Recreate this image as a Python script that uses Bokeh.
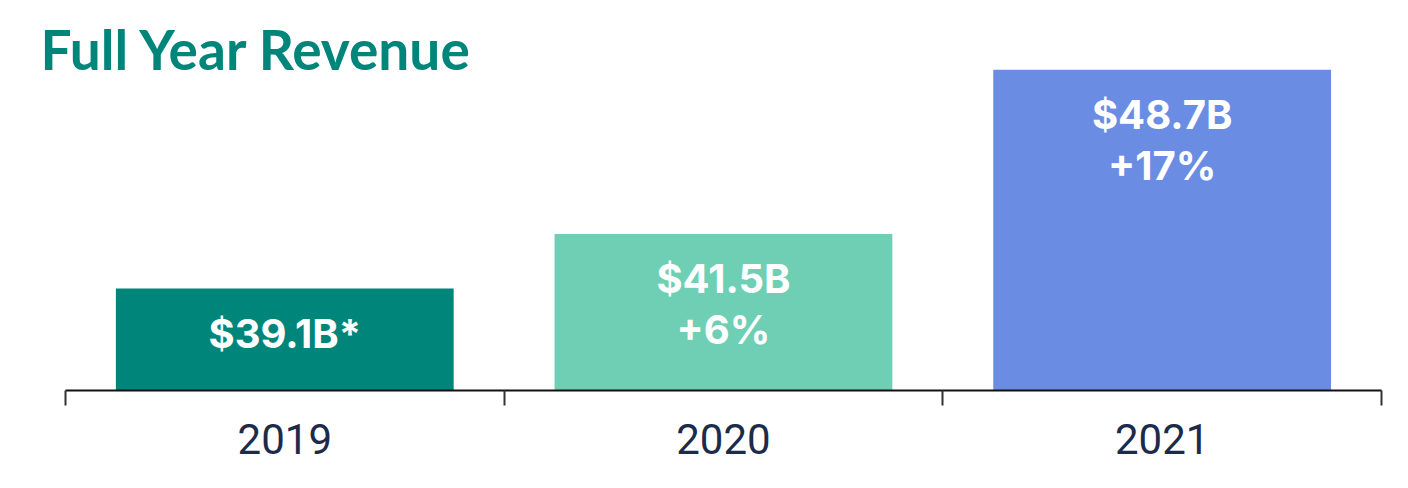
from bokeh.plotting import figure
from bokeh.models import ColumnDataSource, FixedTicker, Range1d, Label
from bokeh.core.properties import value
from bokeh.embed import file_html
from bokeh.resources import INLINE

# Revenue by year (billions USD)
years = ["2019", "2020", "2021"]
revenue = [39.1, 41.5, 48.7]
growth = ["", "+6%", "+17%"]
value_text = ["$39.1B*", "$41.5B", "$48.7B"]
bar_colors = ["#00857a", "#6fcfb4", "#6a8ce3"]

xpos = [i + 0.5 for i in range(len(years))]
labels = [v if g == "" else v + "\n" + g for v, g in zip(value_text, growth)]

source = ColumnDataSource(dict(x=xpos, year=years, revenue=revenue,
                               label=labels, color=bar_colors))

# Frame covers the top and left margins so the heading can sit inside it
y_start = 34.63
p = figure(width=1408, height=488, output_backend="svg", toolbar_location=None,
           x_range=Range1d(-0.148, len(years)), y_range=Range1d(y_start, 51.74),
           min_border_left=0, min_border_right=27, min_border_top=0,
           min_border_bottom=98)
p.title = None

p.vbar(x="x", top="revenue", bottom=y_start, width=0.77, color="color",
       line_color=None, source=source)

p.text(x="x", y="revenue", text="label", source=source,
       text_align="center", text_baseline="top", y_offset=20,
       text_color="white", text_font=value("Inter"), text_font_style="bold",
       text_font_size="40px", text_line_height=1.04)

# Heading
heading = Label(x=40, y=342, x_units="screen", y_units="screen",
                text="Full Year Revenue", text_font="Lato",
                text_font_style="bold", text_font_size="55px",
                text_color="#00857a", text_baseline="alphabetic")
p.add_layout(heading)

# Axes: year labels at category centres, boundary ticks between them
p.yaxis.visible = False
xa = p.xaxis[0]
xa.bounds = (0, len(years))
xa.ticker = FixedTicker(ticks=xpos, minor_ticks=list(range(len(years) + 1)))
xa.major_label_overrides = {x: y for x, y in zip(xpos, years)}
xa.major_tick_out = 0
xa.major_tick_in = 0
xa.minor_tick_out = 15
xa.minor_tick_in = 0
xa.minor_tick_line_color = "#333333"
xa.minor_tick_line_width = 2
xa.axis_line_color = "#111111"
xa.axis_line_width = 2
xa.major_label_text_font = "Roboto"
xa.major_label_text_font_size = "42px"
xa.major_label_text_color = "#1c2b4a"
xa.major_label_standoff = 18

p.xgrid.visible = False
p.ygrid.visible = False
p.outline_line_color = None
p.background_fill_color = "white"
p.border_fill_color = "white"

open("out.html", "w").write(file_html(p, INLINE))
